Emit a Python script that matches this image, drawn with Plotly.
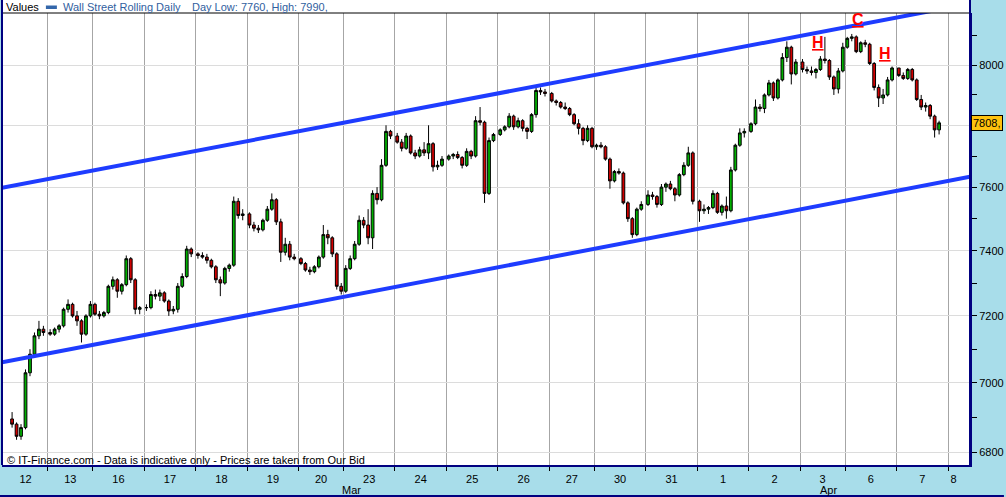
import numpy as np
import plotly.graph_objects as go

# ---------------- data ----------------
day_labels = ["12", "13", "16", "17", "18", "19", "20", "23", "24", "25", "26",
              "27", "30", "31", "1", "2", "3", "6", "7", "8"]
# trading-session length in hours (first one = visible part only)
day_hours = [20, 20, 23, 23, 23, 23, 20, 23, 23, 23, 23, 20, 23, 23, 23, 23, 20, 23, 23, 23]
bars_per_day = [8, 10, 11, 11, 11, 11, 10, 11, 11, 11, 11, 10, 11, 11, 11, 11, 10, 11, 10, 0]
first_bar_hour = [3, 0, 0, 0, 0, 0, 0, 0, 0, 0, 0, 0, 0, 0, 0, 0, 0, 0, 0, 0]
month_labels = ["Mar", "Apr"]
month_label_day = ["23", "3"]
month_label_offset = [3.5, 12.5]

# 2-hour bars, Wall Street Rolling Daily
opens = [
    6895, 6880, 6845, 6870, 7030, 7085, 7140, 7160,                          # 12
    7150, 7145, 7160, 7170, 7220, 7235, 7200, 7185, 7145, 7200,              # 13
    7235, 7205, 7200, 7210, 7290, 7310, 7275, 7295, 7375, 7310, 7220,        # 16
    7225, 7225, 7265, 7260, 7270, 7245, 7215, 7220, 7290, 7320, 7405,        # 17
    7390, 7385, 7380, 7370, 7350, 7310, 7300, 7345, 7355, 7555, 7510,        # 18
    7515, 7480, 7470, 7465, 7495, 7530, 7560, 7490, 7395, 7420, 7380,        # 19
    7375, 7360, 7340, 7335, 7350, 7380, 7450, 7440, 7390, 7290,              # 20
    7275, 7345, 7375, 7420, 7495, 7480, 7440, 7580, 7560, 7670, 7780,        # 23
    7765, 7745, 7725, 7765, 7710, 7700, 7720, 7710, 7740, 7665, 7670,        # 24
    7690, 7700, 7705, 7695, 7670, 7715, 7700, 7815, 7810, 7580, 7750,        # 25
    7770, 7785, 7795, 7830, 7795, 7815, 7790, 7780, 7835, 7915, 7910,        # 26
    7905, 7880, 7875, 7860, 7855, 7835, 7805, 7790, 7750, 7790,              # 27
    7730, 7735, 7730, 7690, 7620, 7650, 7645, 7550, 7500, 7450, 7530,        # 30
    7545, 7575, 7570, 7545, 7600, 7610, 7595, 7575, 7640, 7670, 7710,        # 31
    7555, 7525, 7530, 7535, 7580, 7520, 7540, 7525, 7655, 7735, 7775,        # 1
    7780, 7805, 7860, 7855, 7900, 7940, 7890, 7950, 8025, 8060, 7970,        # 2
    8010, 7985, 7980, 7975, 7985, 8020, 8015, 7960, 7920, 7980,              # 3
    8060, 8090, 8095, 8045, 8075, 8070, 8005, 7925, 7890, 7900, 7950,        # 6
    7990, 7965, 7955, 7985, 7950, 7885, 7860, 7865, 7830, 7785,              # 7
]
highs = [
    6915, 6885, 6880, 7040, 7100, 7150, 7185, 7170,
    7160, 7165, 7175, 7225, 7250, 7240, 7215, 7190, 7205, 7245,
    7240, 7215, 7215, 7295, 7320, 7315, 7300, 7385, 7380, 7315, 7230,
    7235, 7275, 7280, 7280, 7275, 7250, 7230, 7300, 7330, 7415, 7410,
    7395, 7395, 7390, 7375, 7355, 7320, 7350, 7360, 7570, 7565, 7530,
    7520, 7490, 7480, 7500, 7540, 7580, 7565, 7500, 7440, 7430, 7390,
    7380, 7365, 7350, 7355, 7385, 7480, 7465, 7445, 7395, 7300,
    7355, 7385, 7430, 7510, 7505, 7530, 7590, 7600, 7690, 7800, 7785,
    7775, 7755, 7775, 7770, 7720, 7730, 7745, 7800, 7745, 7685, 7700,
    7705, 7710, 7715, 7700, 7725, 7720, 7830, 7860, 7815, 7760, 7775,
    7790, 7800, 7840, 7835, 7825, 7820, 7795, 7840, 7925, 7925, 7920,
    7910, 7885, 7880, 7875, 7860, 7840, 7820, 7795, 7800, 7795,
    7740, 7745, 7735, 7695, 7655, 7660, 7650, 7555, 7505, 7535, 7555,
    7590, 7585, 7575, 7610, 7615, 7620, 7600, 7645, 7680, 7730, 7715,
    7560, 7545, 7540, 7590, 7585, 7545, 7570, 7665, 7740, 7790, 7790,
    7810, 7885, 7870, 7905, 7950, 7945, 7955, 8040, 8080, 8065, 8020,
    8020, 7995, 7995, 7990, 8030, 8095, 8020, 7965, 7990, 8075,
    8095, 8105, 8100, 8080, 8085, 8075, 8010, 7935, 7920, 7960, 7995,
    7990, 7975, 7990, 7990, 7955, 7900, 7875, 7870, 7835, 7815,
]
lows = [
    6870, 6835, 6835, 6865, 7020, 7075, 7130, 7140,
    7140, 7140, 7150, 7165, 7210, 7195, 7170, 7120, 7140, 7195,
    7200, 7190, 7195, 7205, 7280, 7255, 7265, 7290, 7300, 7205, 7205,
    7215, 7220, 7250, 7245, 7240, 7200, 7205, 7210, 7285, 7315, 7380,
    7375, 7375, 7360, 7345, 7300, 7260, 7295, 7335, 7350, 7500, 7495,
    7470, 7460, 7455, 7460, 7490, 7525, 7480, 7365, 7385, 7370, 7370,
    7355, 7335, 7325, 7330, 7345, 7375, 7420, 7380, 7280, 7265,
    7270, 7340, 7370, 7415, 7470, 7420, 7405, 7545, 7555, 7665, 7755,
    7740, 7715, 7720, 7705, 7690, 7695, 7700, 7690, 7650, 7655, 7665,
    7685, 7690, 7690, 7660, 7665, 7690, 7695, 7800, 7550, 7575, 7745,
    7765, 7780, 7790, 7785, 7790, 7780, 7755, 7775, 7825, 7900, 7895,
    7875, 7865, 7855, 7850, 7830, 7800, 7770, 7735, 7745, 7725,
    7720, 7725, 7685, 7595, 7615, 7640, 7545, 7490, 7440, 7445, 7525,
    7540, 7560, 7535, 7540, 7585, 7590, 7555, 7570, 7635, 7665, 7545,
    7490, 7515, 7515, 7530, 7515, 7510, 7500, 7520, 7650, 7730, 7760,
    7775, 7800, 7845, 7840, 7895, 7880, 7885, 7945, 8010, 7935, 7965,
    7975, 7970, 7965, 7955, 7980, 8005, 7950, 7900, 7905, 7975,
    8055, 8080, 8040, 8040, 8060, 8000, 7915, 7860, 7870, 7895, 7945,
    7960, 7950, 7950, 7945, 7880, 7850, 7845, 7820, 7760, 7770,
]
closes = [
    6880, 6845, 6870, 7030, 7085, 7140, 7160, 7150,
    7145, 7160, 7170, 7220, 7235, 7200, 7185, 7145, 7200, 7235,
    7205, 7200, 7210, 7290, 7310, 7275, 7295, 7375, 7310, 7220, 7225,
    7225, 7265, 7260, 7270, 7245, 7215, 7220, 7290, 7320, 7405, 7390,
    7385, 7380, 7370, 7350, 7310, 7300, 7345, 7355, 7555, 7510, 7515,
    7480, 7470, 7465, 7495, 7530, 7560, 7490, 7395, 7420, 7380, 7375,
    7360, 7340, 7335, 7350, 7380, 7450, 7440, 7390, 7290, 7275,
    7345, 7375, 7420, 7495, 7480, 7440, 7580, 7560, 7670, 7780, 7765,
    7745, 7725, 7765, 7710, 7700, 7720, 7710, 7740, 7665, 7670, 7690,
    7700, 7705, 7695, 7670, 7715, 7700, 7815, 7810, 7580, 7750, 7770,
    7785, 7795, 7830, 7795, 7815, 7790, 7780, 7835, 7915, 7910, 7905,
    7880, 7875, 7860, 7855, 7835, 7805, 7790, 7750, 7790, 7730,
    7735, 7730, 7690, 7620, 7650, 7645, 7550, 7500, 7450, 7530, 7545,
    7575, 7570, 7545, 7600, 7610, 7595, 7575, 7640, 7670, 7710, 7555,
    7525, 7530, 7535, 7580, 7520, 7540, 7525, 7655, 7735, 7775, 7780,
    7805, 7860, 7855, 7900, 7940, 7890, 7950, 8025, 8060, 7970, 8010,
    7985, 7980, 7975, 7985, 8020, 8015, 7960, 7920, 7980, 8060,
    8090, 8095, 8045, 8075, 8070, 8005, 7925, 7890, 7900, 7950, 7990,
    7965, 7955, 7985, 7950, 7885, 7860, 7865, 7830, 7785, 7808,
]

# trend channel (hour position, price)
upper_channel_x = [-20.5, 411.8]
upper_channel_price = [7598, 8209]
lower_channel_x = [-20.5, 411.8]
lower_channel_price = [7061, 7633]

# head & shoulders style markers
pattern_text = ["H", "C", "H"]
pattern_x = [343.7, 361.9, 374.0]
pattern_price = [8075, 8153, 8039]

y_tick_vals = [6800, 7000, 7200, 7400, 7600, 7800, 8000]
y_tick_text = ["6800", "7000", "7200", "7400", "7600", "", "8000"]
y_minor_vals = [6900, 7100, 7300, 7500, 7700, 7900, 8100]

# ---------------- derived positions ----------------
day_start = np.concatenate([[-20.0], -20.0 + np.cumsum(day_hours[:-1])])
bar_x = []
for s, n, f in zip(day_start, bars_per_day, first_bar_hour):
    bar_x += [s + f + 1 + 2 * k for k in range(n)]
boundaries = list(day_start[1:])
centers = [s + h / 2 for s, h in zip(day_start[:-1], day_hours[:-1])]
centers.append(day_start[-1] + 2.5)   # last session only partly visible
month_x = [day_start[day_labels.index(d)] + o for d, o in zip(month_label_day, month_label_offset)]

n_last = bars_per_day[-2]
last_low = min(lows[-n_last:])
last_high = max(highs[-n_last:])
last_close = closes[-1]

FONT = "Liberation Sans, Arial, sans-serif"
NAVY = "#000080"
W, H = 1006, 497
ML, MR, MT, MB = 2, 34, 13, 32
PW, PH = W - ML - MR, H - MT - MB

fig = go.Figure()
fig.add_trace(go.Candlestick(
    x=bar_x, open=opens, high=highs, low=lows, close=closes,
    increasing=dict(line=dict(color="black", width=1), fillcolor="#00B000"),
    decreasing=dict(line=dict(color="black", width=1), fillcolor="#D00000"),
    whiskerwidth=0, showlegend=False, name="Wall Street Rolling Daily"))
for cx, cp in [(upper_channel_x, upper_channel_price), (lower_channel_x, lower_channel_price)]:
    fig.add_trace(go.Scatter(x=cx, y=cp, mode="lines", showlegend=False,
                             line=dict(color="#1E3CFF", width=4), hoverinfo="skip"))

ann = []
for t, px_, pp in zip(pattern_text, pattern_x, pattern_price):
    ann.append(dict(x=px_, y=np.log10(pp), xref="x", yref="y", text="<b><u>%s</u></b>" % t,
                    showarrow=False, font=dict(family=FONT, size=16, color="#FF0000"),
                    xanchor="center", yanchor="middle"))
for m, mx in zip(month_labels, month_x):
    ann.append(dict(x=mx, y=0, xref="x", yref="paper", yshift=-25, text=m, showarrow=False,
                    font=dict(family=FONT, size=11, color="black"), xanchor="center", yanchor="middle"))
hy = 1 + 6.5 / PH
ann += [
    dict(x=2 / PW, y=hy, xref="paper", yref="paper", text="Values", showarrow=False,
         font=dict(family=FONT, size=11, color="black"), xanchor="left", yanchor="middle"),
    dict(x=59 / PW, y=hy, xref="paper", yref="paper", text="Wall Street Rolling Daily", showarrow=False,
         font=dict(family=FONT, size=11, color="#3060A0"), xanchor="left", yanchor="middle"),
    dict(x=188 / PW, y=hy, xref="paper", yref="paper",
         text="Day Low: %d, High: %d," % (last_low, last_high), showarrow=False,
         font=dict(family=FONT, size=11, color="#3060A0"), xanchor="left", yanchor="middle"),
    dict(x=3 / PW, y=5 / PH, xref="paper", yref="paper",
         text="\u00a9 IT-Finance.com - Data is indicative only - Prices are taken from Our Bid",
         showarrow=False, font=dict(family=FONT, size=11, color="black"), xanchor="left", yanchor="middle"),
    dict(x=1, y=np.log10(last_close), xref="paper", yref="y", xshift=1, text="%d," % last_close,
         showarrow=False, font=dict(family=FONT, size=11, color="black"), xanchor="left", yanchor="middle",
         bgcolor="#FFC20E", bordercolor="black", borderwidth=1, borderpad=1),
]

top = 1 + MT / PH
shapes = [
    dict(type="rect", xref="paper", yref="paper", x0=0, x1=1, y0=1, y1=top,
         fillcolor="white", line=dict(width=0), layer="below"),
    dict(type="line", xref="paper", yref="paper", x0=0, x1=1, y0=1, y1=1, line=dict(color="black", width=1)),
    dict(type="line", xref="paper", yref="paper", x0=0, x1=0, y0=0, y1=top, line=dict(color=NAVY, width=2)),
    dict(type="line", xref="paper", yref="paper", x0=1, x1=1, y0=0, y1=top, line=dict(color=NAVY, width=2)),
    dict(type="rect", xref="paper", yref="paper", x0=44 / PW, x1=55 / PW, y0=1 + 7.5 / PH, y1=1 + 4 / PH,
         fillcolor="#3366AA", line=dict(width=0)),
    dict(type="line", xref="paper", yref="paper", x0=-ML / PW, x1=(W - ML) / PW,
         y0=-(MB - 1) / PH, y1=-(MB - 1) / PH, line=dict(color=NAVY, width=2)),
]

fig.update_layout(
    width=W, height=H, margin=dict(l=ML, r=MR, t=MT, b=MB),
    paper_bgcolor="#A8DDEA", plot_bgcolor="white",
    font=dict(family=FONT, size=11, color="black"),
    annotations=ann, shapes=shapes, showlegend=False, boxgap=0.12,
    xaxis=dict(range=[-20.5, 411.8], rangeslider=dict(visible=False),
               tickmode="array", tickvals=centers, ticktext=day_labels, ticks="",
               ticklabelstandoff=3,
               showgrid=False, zeroline=False, showline=True, linecolor=NAVY, linewidth=2,
               tickfont=dict(family=FONT, size=11, color="black"),
               minor=dict(tickmode="array", tickvals=boundaries, ticks="outside", ticklen=4,
                          tickcolor="black", showgrid=True, gridcolor="#A6A6A6", gridwidth=1)),
    yaxis=dict(type="log", side="right", range=[np.log10(6800) - 13 / 5483, np.log10(8000) + 52 / 5483],
               tickmode="array", tickvals=y_tick_vals, ticktext=y_tick_text,
               ticks="outside", ticklen=5, tickcolor="black",
               showgrid=True, gridcolor="#DCDCDC", gridwidth=1, zeroline=False,
               showline=True, linecolor=NAVY, linewidth=2,
               tickfont=dict(family=FONT, size=11, color="black"),
               minor=dict(tickmode="array", tickvals=y_minor_vals, ticks="outside", ticklen=5,
                          tickcolor="black", showgrid=False)),
)

fig.write_html("out.html", config={"displayModeBar": False},
               post_script="document.body.style.margin='0px';")
